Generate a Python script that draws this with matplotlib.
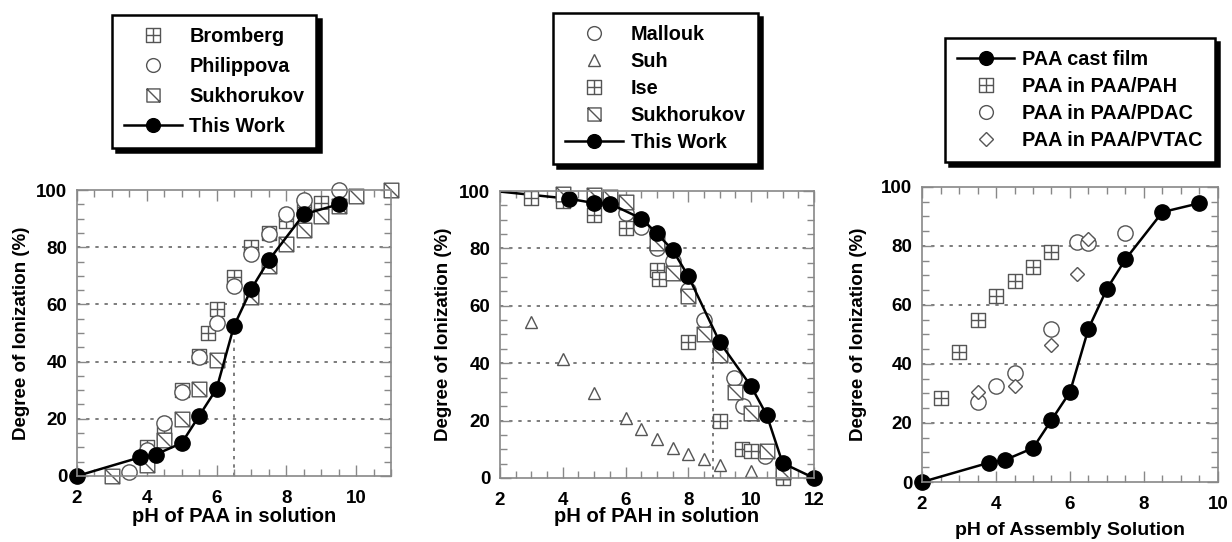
# Degree of ionization of PAA / PAH vs pH (three panels)
import numpy as np
import matplotlib.pyplot as plt
from matplotlib.path import Path
from matplotlib.ticker import MultipleLocator

plt.rcParams['font.family'] = ['Liberation Sans', 'DejaVu Sans']
plt.rcParams['font.weight'] = 'bold'

# ---- panel 1: PAA in solution ----
bromberg_x = [4, 4.5, 5, 5.5, 5.75, 6, 6.5, 7, 7.5, 8, 8.5, 9]
bromberg_y = [10, 15, 30, 42, 50, 58.5, 69.5, 80, 85, 89, 94, 95.5]
philippova_x = [3.5, 4, 4.5, 5, 5.5, 6, 6.5, 7, 7.5, 8, 8.5, 9.5]
philippova_y = [1.5, 9, 18.5, 29.5, 41.5, 53.5, 66.5, 77.5, 84.5, 91.5, 96.5, 100]
sukh1_x = [3, 4, 4.5, 5, 5.5, 6, 7, 7.5, 8, 8.5, 9, 9.5, 10, 11]
sukh1_y = [0, 4, 12.5, 20, 30.5, 40.5, 62.5, 73.5, 81, 86, 91, 94.5, 98, 100]
paa_x = [2, 3.8, 4.25, 5, 5.5, 6, 6.5, 7, 7.5, 8.5, 9.5]
paa_y = [0, 6.5, 7.5, 11.5, 21, 30.5, 52.5, 65.5, 75.5, 91.5, 95]
paa_pka_x = [6.5, 6.5]
paa_pka_y = [0, 52.5]

# ---- panel 2: PAH in solution ----
mallouk_x = [6, 6.5, 7, 7.5, 8, 8.5, 9.45, 9.75, 10.45]
mallouk_y = [92.5, 87.5, 80, 75.5, 65.5, 55, 35, 25, 7.5]
suh_x = [3, 4, 5, 6, 6.5, 7, 7.5, 8, 8.5, 9, 10]
suh_y = [54.5, 41.5, 29.5, 21, 17, 13.5, 10.5, 8.5, 6.5, 4.5, 2.5]
ise_x = [3, 4, 5, 6, 7, 7.05, 8, 9, 9.7, 10, 11]
ise_y = [97.5, 96.5, 91.5, 87, 72.5, 69.5, 47.5, 20, 10, 9.5, 0]
sukh2_x = [4, 5, 5.5, 6, 7, 7.5, 8, 8.5, 9, 9.5, 10, 10.5, 11]
sukh2_y = [99, 98.5, 98, 96, 82, 71.5, 63.5, 50, 43, 30, 22.5, 9.5, 2]
pah_x = [4.2, 5, 5.5, 6.5, 7, 7.5, 8, 9, 10, 10.5, 11, 12]
pah_y = [97.3, 95.8, 95.6, 90.4, 85.2, 79.4, 70.3, 47.3, 31.9, 21.8, 5.2, 0]
pah_line_start = [2, 99.8]
pah_pka_x = [8.8, 8.8]
pah_pka_y = [0, 45]

# ---- panel 3: assembly solution ----
cast_x = [2, 3.8, 4.25, 5, 5.5, 6, 6.5, 7, 7.5, 8.5, 9.5]
cast_y = [0, 6.5, 7.5, 11.5, 21, 30.5, 52, 65.5, 75.5, 91.5, 94.5]
in_pah_x = [2.5, 3, 3.5, 4, 4.5, 5, 5.5]
in_pah_y = [28.5, 44, 55, 63, 68, 73, 78]
in_pdac_x = [3.5, 4, 4.5, 5.5, 6.2, 6.5, 7.5]
in_pdac_y = [27, 32.5, 37, 52, 81.5, 81, 84.5]
in_pvtac_x = [3.5, 4.5, 5.5, 6.2, 6.5]
in_pvtac_y = [30.5, 32.5, 46.5, 70.5, 82.5]

# square with cross and square with diagonal markers
box_plus = Path([(-1, -1), (1, -1), (1, 1), (-1, 1), (-1, -1),
                 (0, -1), (0, 1), (-1, 0), (1, 0)],
                [Path.MOVETO, Path.LINETO, Path.LINETO, Path.LINETO, Path.CLOSEPOLY,
                 Path.MOVETO, Path.LINETO, Path.MOVETO, Path.LINETO])
box_diag = Path([(-1, -1), (1, -1), (1, 1), (-1, 1), (-1, -1),
                 (-1, 1), (1, -1)],
                [Path.MOVETO, Path.LINETO, Path.LINETO, Path.LINETO, Path.CLOSEPOLY,
                 Path.MOVETO, Path.LINETO])

GRAY = '#555555'
open_style = dict(linestyle='none', mfc='white', mec=GRAY, mew=1.0, clip_on=False)
square_kw = dict(ms=10.5, **open_style)
circle_kw = dict(marker='o', ms=11, **open_style)
tri_kw = dict(marker='^', ms=9, **open_style)
diam_kw = dict(marker='D', ms=7.5, **open_style)
work_kw = dict(color='black', lw=1.8, marker='o', ms=11, mfc='black', mec='black',
               clip_on=False)


def style_axes(ax, xmax):
    ax.set_xlim(2, xmax)
    ax.set_ylim(0, 100)
    ax.xaxis.set_major_locator(MultipleLocator(2))
    ax.xaxis.set_minor_locator(MultipleLocator(0.5))
    ax.yaxis.set_major_locator(MultipleLocator(20))
    ax.yaxis.set_minor_locator(MultipleLocator(5))
    ax.tick_params(which='both', direction='in', top=True, right=True, color='#888888',
                   labelsize=13.5, pad=7)
    ax.tick_params(axis='x', pad=10)
    ax.tick_params(which='major', length=8, width=1)
    ax.tick_params(which='minor', length=5, width=1)
    for s in ax.spines.values():
        s.set_color('#888888')
        s.set_linewidth(1.2)
    for v in [20, 40, 60, 80]:
        ax.axhline(v, color='#666666', lw=1.2, ls=(0, (2, 3.5)), zorder=0)
    for lab in ax.get_xticklabels() + ax.get_yticklabels():
        lab.set_fontweight('bold')
    ax.set_ylabel('Degree of Ionization (%)', fontsize=13.5, fontweight='bold')


def add_legend(ax, anchor, spacing):
    leg = ax.legend(loc='upper left', bbox_to_anchor=anchor, bbox_transform=fig.transFigure,
                    fontsize=14.3, frameon=True, fancybox=False, edgecolor='black',
                    shadow={'color': 'black', 'alpha': 1, 'ox': 3, 'oy': -3},
                    markerscale=0.9, handlelength=2.9, labelspacing=spacing,
                    borderpad=0.6, handletextpad=0.4, borderaxespad=0)
    leg.get_frame().set_linewidth(1.8)
    return leg


fig = plt.figure(figsize=(12.32, 5.42), dpi=100)
ax1 = fig.add_axes([0.0625, 0.1218, 0.2549, 0.5276])
ax2 = fig.add_axes([0.4058, 0.1181, 0.2549, 0.5295])
ax3 = fig.add_axes([0.7484, 0.1107, 0.2402, 0.5443])

# panel 1
style_axes(ax1, 11)
ax1.plot(paa_pka_x, paa_pka_y, color='#666666', lw=1.2, ls=(0, (2, 3)), zorder=1)
ax1.plot(bromberg_x, bromberg_y, marker=box_plus, label='Bromberg', **square_kw)
ax1.plot(philippova_x, philippova_y, label='Philippova', **circle_kw)
ax1.plot(sukh1_x, sukh1_y, marker=box_diag, label='Sukhorukov', **square_kw)
ax1.plot(paa_x, paa_y, label='This Work', **work_kw)
ax1.set_xlabel('pH of PAA in solution', fontsize=14.5, fontweight='bold')
ax1.xaxis.set_label_coords(0.5, -0.11)
ax1.yaxis.set_label_coords(-0.15, 0.5)
add_legend(ax1, (0.0909, 0.972), 0.55)

# panel 2
style_axes(ax2, 12)
ax2.plot(pah_pka_x, pah_pka_y, color='#666666', lw=1.2, ls=(0, (2, 3)), zorder=1)
ax2.plot([pah_line_start[0], pah_x[0]], [pah_line_start[1], pah_y[0]], color='black', lw=1.8)
ax2.plot(mallouk_x, mallouk_y, label='Mallouk', **circle_kw)
ax2.plot(suh_x, suh_y, label='Suh', **tri_kw)
ax2.plot(ise_x, ise_y, marker=box_plus, label='Ise', **square_kw)
ax2.plot(sukh2_x, sukh2_y, marker=box_diag, label='Sukhorukov', **square_kw)
ax2.plot(pah_x, pah_y, label='This Work', **work_kw)
ax2.set_xlabel('pH of PAH in solution', fontsize=14.5, fontweight='bold')
ax2.xaxis.set_label_coords(0.5, -0.1)
ax2.yaxis.set_label_coords(-0.153, 0.5)
add_legend(ax2, (0.449, 0.976), 0.4)

# panel 3
style_axes(ax3, 10)
ax3.plot(cast_x, cast_y, label='PAA cast film', **work_kw)
ax3.plot(in_pah_x, in_pah_y, marker=box_plus, label='PAA in PAA/PAH', **square_kw)
ax3.plot(in_pdac_x, in_pdac_y, label='PAA in PAA/PDAC', **circle_kw)
ax3.plot(in_pvtac_x, in_pvtac_y, label='PAA in PAA/PVTAC', **diam_kw)
ax3.set_xlabel('pH of Assembly Solution', fontsize=14, fontweight='bold')
ax3.xaxis.set_label_coords(0.5, -0.136)
ax3.yaxis.set_label_coords(-0.186, 0.5)
add_legend(ax3, (0.767, 0.930), 0.4)

fig.savefig('out.png', dpi=100)
